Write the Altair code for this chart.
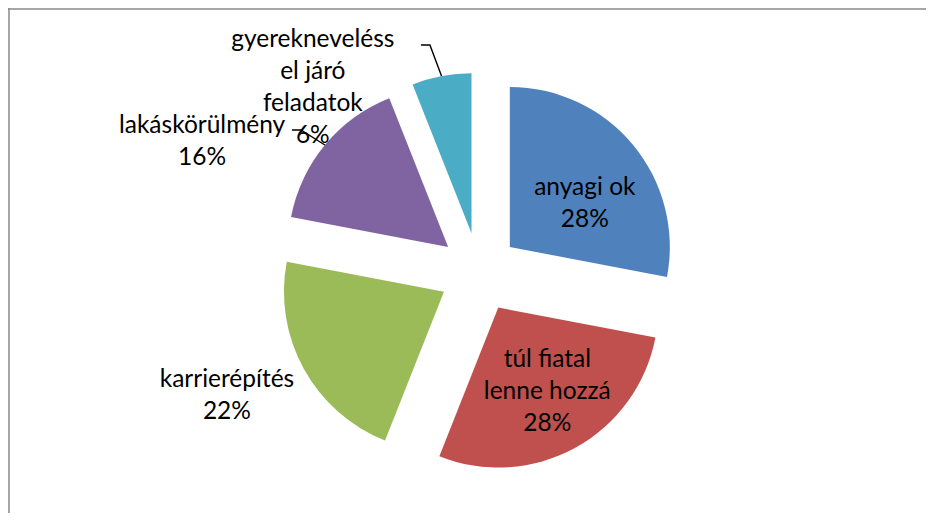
import altair as alt
import pandas as pd
import numpy as np

# ---------------- data ----------------
categories = ["anyagi ok", "túl fiatal lenne hozzá", "karrierépítés",
              "lakáskörülmény", "gyerekneveléssel járó feladatok"]
label_lines = ["anyagi ok", "túl fiatal\nlenne hozzá", "karrierépítés",
               "lakáskörülmény", "gyerekneveléss\nel járó\nfeladatok"]
values = [28, 28, 22, 16, 6]
colors = ["#4F81BD", "#C0504D", "#9BBB59", "#8064A2", "#4BACC6"]

# ---------------- layout ----------------
W, H = 918, 505          # chart size (px)
CX, CY = 471, 264.5      # pie centre in view px
R = 160                  # pie radius px
EXPLODE = 0.25           # explosion, fraction of radius
label_dist = [0.542, 0.611, 1.504, 1.672, 1.343]      # radius units from slice apex
label_angle = [59.9, 149.9, 244.4, 293.1, 312.4]      # degrees clockwise from 12 o'clock
leader_elbow = [None, None, None, (-24, -15), (-11.6, -31)]  # px from arc point
LEADER_TAIL = 9
FONT = "Lato"
FONT_SIZE = 24.5
LINE_H = 32

# ---------------- geometry from data ----------------
v = np.array(values, dtype=float)
total = v.sum()
cum = np.cumsum(v)
start = (cum - v) / total * 2 * np.pi
end = cum / total * 2 * np.pi
mid = (start + end) / 2
ox = EXPLODE * np.sin(mid)
oy = EXPLODE * np.cos(mid)

df = pd.DataFrame({
    "category": categories,
    "value": values,
    "start": start,
    "end": end,
    "ox": ox,
    "oy": oy,
})

texts_full = [f"{l}\n{val}%" for l, val in zip(label_lines, values)]
n_lines = np.array([t.count("\n") + 1 for t in texts_full])
la = np.radians(label_angle)
lab = pd.DataFrame({
    "category": categories,
    "text": texts_full,
    "lx": ox + np.array(label_dist) * np.sin(la),
    # first line sits at the anchor: lift anchor so the block is centred
    "ly": oy + np.array(label_dist) * np.cos(la) + (n_lines - 1) / 2 * LINE_H / R,
})

rows = []
for i, c in enumerate(categories):
    if leader_elbow[i] is None:
        continue
    ax_ = ox[i] + np.sin(mid[i])
    ay_ = oy[i] + np.cos(mid[i])
    ex = ax_ + leader_elbow[i][0] / R
    ey = ay_ - leader_elbow[i][1] / R
    rows += [
        {"category": c, "k": 0, "x": ax_, "y": ay_},
        {"category": c, "k": 1, "x": ex, "y": ey},
        {"category": c, "k": 2, "x": ex - LEADER_TAIL / R, "y": ey},
    ]
lead = pd.DataFrame(rows)

xs = alt.Scale(domain=[-CX / R, (W - CX) / R], nice=False, zero=False)
ys = alt.Scale(domain=[-(H - CY) / R, CY / R], nice=False, zero=False)

arcs = alt.Chart(df).mark_arc(radius=R).encode(
    x=alt.X("ox:Q", scale=xs, axis=None),
    y=alt.Y("oy:Q", scale=ys, axis=None),
    theta=alt.Theta("start:Q", scale=None),
    theta2=alt.Theta2("end"),
    color=alt.Color("category:N", scale=alt.Scale(domain=categories, range=colors), legend=None),
)

leaders = alt.Chart(lead).mark_line(color="black", strokeWidth=1.4).encode(
    x=alt.X("x:Q", scale=xs, axis=None),
    y=alt.Y("y:Q", scale=ys, axis=None),
    detail="category:N",
    order="k:Q",
)

texts = alt.Chart(lab).mark_text(
    font=FONT, fontSize=FONT_SIZE, lineBreak="\n", lineHeight=LINE_H,
    align="center", baseline="middle", color="black",
).encode(
    x=alt.X("lx:Q", scale=xs, axis=None),
    y=alt.Y("ly:Q", scale=ys, axis=None),
    text="text:N",
)

one = pd.DataFrame({"a": [0]})
left_border = alt.Chart(one).mark_rule(color="#888888", strokeWidth=1.5).encode(
    x=alt.value(1), y=alt.value(0), y2=alt.value(H))
top_border = alt.Chart(one).mark_rule(color="#888888", strokeWidth=1.5).encode(
    y=alt.value(1), x=alt.value(0), x2=alt.value(W))

chart = alt.layer(left_border, top_border, arcs, leaders, texts).properties(
    width=W, height=H, padding=0, autosize="none"
).configure_view(stroke=None)

chart.save("out.html", embed_options={"renderer": "svg", "actions": False})
